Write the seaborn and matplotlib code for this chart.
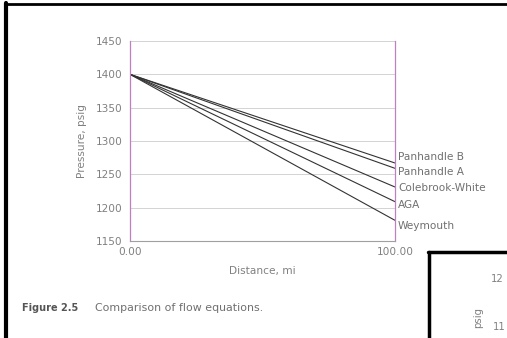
import matplotlib
matplotlib.use("Agg")
import matplotlib.pyplot as plt
import seaborn as sns
import pandas as pd
from matplotlib.lines import Line2D

distance = [0.0, 100.0]
series_names = ["Panhandle B", "Panhandle A", "Colebrook-White", "AGA", "Weymouth"]
panhandle_b = [1400, 1267]
panhandle_a = [1400, 1259]
colebrook = [1400, 1231]
aga = [1400, 1209]
weymouth = [1400, 1181]
yticks = [1150, 1200, 1250, 1300, 1350, 1400, 1450]

sns.set_theme(style="white")
plt.rcParams['font.family'] = ['DejaVu Sans']

rows = []
for name, vals in zip(series_names, [panhandle_b, panhandle_a, colebrook, aga, weymouth]):
    for d, p in zip(distance, vals):
        rows.append({"Distance": d, "Pressure": p, "Equation": name})
df = pd.DataFrame(rows)

fig = plt.figure(figsize=(5.07, 3.38), dpi=100)
ax = fig.add_axes([130/507, 1-241/338, 265/507, 200/338])

sns.lineplot(data=df, x="Distance", y="Pressure", hue="Equation",
             palette=["#333333"]*5, linewidth=0.8, legend=False, ax=ax)

ax.set_xlim(0, 100)
ax.set_ylim(1150, 1450)
ax.set_yticks(yticks)
ax.set_xticks([0, 100])
ax.set_xticklabels(["0.00", "100.00"])
ax.yaxis.grid(True, color="#cccccc", linewidth=0.6)
ax.xaxis.grid(False)
txtc = "#808080"
ax.tick_params(axis="y", labelsize=7.6, colors=txtc, length=0, pad=5.5)
ax.tick_params(axis="x", labelsize=7.6, colors=txtc, length=0, pad=4.5)
for lab in ax.get_xticklabels() + ax.get_yticklabels():
    lab.set_color(txtc)
ax.set_xlabel("Distance, mi", fontsize=7.6, color=txtc, labelpad=6)
ax.set_ylabel("Pressure, psig", fontsize=7.6, color=txtc, labelpad=6)
for s in ["left", "right"]:
    ax.spines[s].set_color("#c080c0")
    ax.spines[s].set_linewidth(0.9)
ax.spines["bottom"].set_color("#a0a0a0")
ax.spines["bottom"].set_linewidth(0.8)
ax.spines["top"].set_visible(False)

label_y = [1276, 1253, 1229.5, 1204, 1172.5]
for name, ly in zip(series_names, label_y):
    ax.text(101.1, ly, name, fontsize=7.6, color="#707070", va="center", ha="left",
            clip_on=False)

fig.text(22/507, 1-308/338, "Figure 2.5", fontsize=7.0, fontweight="bold",
         color="#555555", va="center")
fig.text(95/507, 1-308/338, "Comparison of flow equations.", fontsize=7.9,
         color="#707070", va="center")

# page frame
fig.add_artist(Line2D([6/507, 6/507], [0, 1-3/338], transform=fig.transFigure,
                      color="black", linewidth=3))
fig.add_artist(Line2D([5/507, 1], [1-4/338, 1-4/338], transform=fig.transFigure,
                      color="black", linewidth=2))
# next figure fragment
fig.add_artist(Line2D([429/507, 429/507], [0, 1-252/338], transform=fig.transFigure,
                      color="black", linewidth=2.5))
fig.add_artist(Line2D([428/507, 1], [1-252/338, 1-252/338], transform=fig.transFigure,
                      color="black", linewidth=2.5))
fig.text(491/507, 1-279/338, "12", fontsize=7.3, color=txtc, va="center")
fig.text(478/507, 1-318/338, "psig", fontsize=7.3, color=txtc, va="center",
         ha="center", rotation=90)
fig.text(493/507, 1-327/338, "11", fontsize=7.3, color=txtc, va="center")

fig.savefig("out.png", dpi=100)
